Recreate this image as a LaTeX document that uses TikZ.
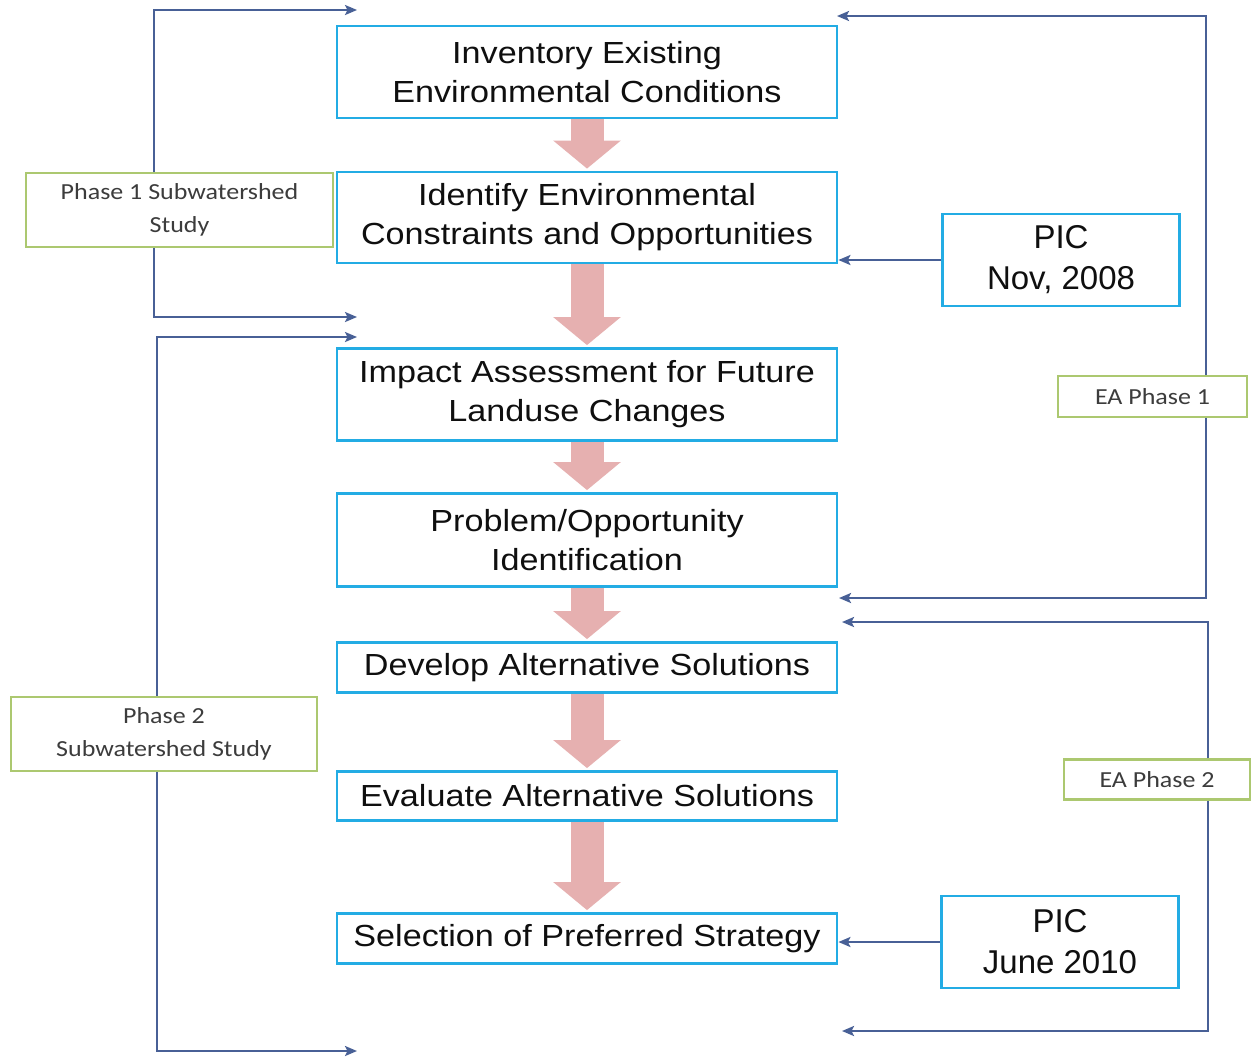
\documentclass[tikz,border=0pt]{standalone}
\usepackage{fontspec}
\usetikzlibrary{arrows.meta,backgrounds,calc}
\newfontfamily\boxfont{Liberation Sans}[FakeStretch=1.12]
\newfontfamily\picfont{Liberation Sans}
\newfontfamily\labfont{Carlito}[FakeStretch=1.13]
\definecolor{stepblue}{RGB}{35,172,228}
\definecolor{phasegreen}{RGB}{172,200,112}
\definecolor{linkblue}{RGB}{72,96,150}
\definecolor{flowpink}{RGB}{230,176,176}
\definecolor{inkdark}{RGB}{15,15,15}
\definecolor{inkgray}{RGB}{60,60,60}
\tikzset{
  stepbox/.style={draw=stepblue, line width=2.8pt, fill=white, inner sep=0pt,
    minimum width=500pt, align=center, text=inkdark,
    font=\boxfont\fontsize{30.5}{39}\selectfont},
  picbox/.style={draw=stepblue, line width=2.8pt, fill=white, inner sep=0pt,
    minimum width=237pt, minimum height=92pt, align=center, text=inkdark,
    font=\picfont\fontsize{33}{41}\selectfont},
  phasebox/.style={draw=phasegreen, line width=2.2pt, fill=white, inner sep=0pt,
    align=center, text=inkgray, font=\labfont\fontsize{23}{33}\selectfont},
  link/.style={draw=linkblue, line width=2.2pt,
    -{Stealth[length=12pt,width=10pt,inset=2.5pt]}},
  flow/.style={draw=flowpink, line width=33pt, shorten >=2pt,
    -{Triangle[length=28pt,width=66pt]}}
}
\begin{document}
\begin{tikzpicture}[x=1pt,y=-1pt]
\useasboundingbox (0,0) rectangle (1252,1061);

% process steps
\node[stepbox, minimum height=92pt] (b1) at (587,72)
  {Inventory Existing\\Environmental Conditions};
\node[stepbox, minimum height=91pt] (b2) at (587,217.5)
  {Identify Environmental\\Constraints and Opportunities};
\node[stepbox, minimum height=92pt] (b3) at (587,394.5)
  {Impact Assessment for Future\\Landuse Changes};
\node[stepbox, minimum height=93pt] (b4) at (587,540)
  {Problem/Opportunity\\Identification};
\node[stepbox, minimum height=50pt] (b5) at (587,667.5)
  {Develop Alternative Solutions};
\node[stepbox, minimum height=49pt] (b6) at (587,796)
  {Evaluate Alternative Solutions};
\node[stepbox, minimum height=50pt] (b7) at (587,938.5)
  {Selection of Preferred Strategy};

% public information centres
\node[picbox] (pic1) at (1061,260) {PIC\\Nov, 2008};
\node[picbox] (pic2) at (1060,942) {PIC\\June 2010};

% phase labels
\node[phasebox, minimum width=307pt, minimum height=74pt] (p1) at (179.5,210)
  {Phase 1 Subwatershed\\Study};
\node[phasebox, minimum width=306pt, minimum height=74pt] (p2) at (164,734)
  {Phase 2\\Subwatershed Study};
\node[phasebox, minimum width=189pt, minimum height=41pt] (e1) at (1152.5,396.5)
  {EA Phase 1};
\node[phasebox, minimum width=186pt, minimum height=40pt] (e2) at (1157,779.5)
  {EA Phase 2};

% bracket rails and arrow ends
\coordinate (v1) at (154,0);
\coordinate (v2) at (157,0);
\coordinate (v3) at (1206,0);
\coordinate (v4) at (1208,0);
\coordinate (p1in) at (357,10);
\coordinate (p1out) at (357,317);
\coordinate (p2in) at (357,337);
\coordinate (p2out) at (357,1051);
\coordinate (e1in) at (837,16);
\coordinate (e1out) at (839,598);
\coordinate (e2in) at (842,622);
\coordinate (e2out) at (842,1031);

\begin{scope}[on background layer]
  \fill[white] (0,0) rectangle (1252,1061);
  % flow between steps
  \draw[flow] (b1.south) -- (b2.north);
  \draw[flow] (b2.south) -- (b3.north);
  \draw[flow] (b3.south) -- (b4.north);
  \draw[flow] (b4.south) -- (b5.north);
  \draw[flow] (b5.south) -- (b6.north);
  \draw[flow] (b6.south) -- (b7.north);
\end{scope}

% subwatershed study brackets
\draw[link] (p1.north -| v1) |- (p1in);
\draw[link] (p1.south -| v1) |- (p1out);
\draw[link] (p2.north -| v2) |- (p2in);
\draw[link] (p2.south -| v2) |- (p2out);

% EA brackets
\draw[link] (e1.north -| v3) |- (e1in);
\draw[link] (e1.south -| v3) |- (e1out);
\draw[link] (e2.north -| v4) |- (e2in);
\draw[link] (e2.south -| v4) |- (e2out);

% PIC inputs
\draw[link] (pic1.west) -- (b2.east |- pic1.west);
\draw[link] (pic2.west) -- (b7.east |- pic2.west);
\end{tikzpicture}
\end{document}
